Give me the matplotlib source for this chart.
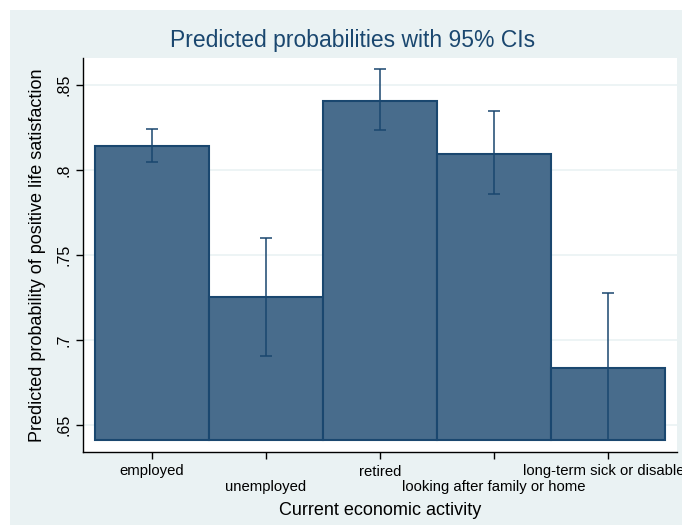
import matplotlib.pyplot as plt
from matplotlib.patches import Rectangle

plt.rcParams['font.family'] = ['Liberation Sans', 'DejaVu Sans']

# predicted probabilities by economic activity, with 95% CI bounds
activities = ['employed', 'unemployed', 'retired',
              'looking after family or home', 'long-term sick or disabled']
prob = [0.814, 0.725, 0.8405, 0.8095, 0.6835]
ci_low = [0.805, 0.6905, 0.8235, 0.786, 0.641]
ci_high = [0.824, 0.760, 0.8595, 0.8345, 0.7275]
base = 0.641

navy = '#1A476F'
fill = '#486C8C'
bg = '#EAF2F3'

fig = plt.figure(figsize=(6.82, 5.25), dpi=100, facecolor='white')
fig.patches.append(Rectangle((10 / 682, 0), 1, 515 / 525, transform=fig.transFigure,
                             facecolor=bg, edgecolor='none', zorder=-1))
ax = fig.add_axes([83 / 682, (525 - 452) / 525, (677 - 83) / 682, (452 - 58) / 525])
ax.set_facecolor('white')

x = list(range(1, len(activities) + 1))
heights = [p - base for p in prob]
ax.bar(x, heights, bottom=base, width=1.0, color=fill, edgecolor=navy, linewidth=1.5, zorder=2)
yerr = [[p - lo for p, lo in zip(prob, ci_low)], [hi - p for p, hi in zip(prob, ci_high)]]
ax.errorbar(x, prob, yerr=yerr, fmt='none', ecolor=navy, elinewidth=1.1,
            capsize=4.3, capthick=1.1, zorder=3)

ax.set_xlim(0.395, 5.605)
ax.set_ylim(0.6341, 0.8659)

yticks = [0.65, 0.7, 0.75, 0.8, 0.85]
ax.set_yticks(yticks)
ax.set_yticklabels(['.65', '.7', '.75', '.8', '.85'], rotation=90, va='center', fontsize=11.5)
ax.yaxis.grid(True, color=bg, linewidth=1.2, zorder=0)
ax.set_axisbelow(True)

ax.set_xticks(x)
ax.set_xticklabels(activities, fontsize=10.7)
ax.tick_params(axis='both', length=5, width=1, color='black')
ax.tick_params(axis='x', pad=4)
ax.tick_params(axis='y', pad=3)
# alternate labels drop to a second row
for i, tick in enumerate(ax.xaxis.get_major_ticks()):
    if i % 2 == 1:
        tick.set_pad(15)

for side in ['top', 'right']:
    ax.spines[side].set_visible(False)
ax.spines['left'].set_linewidth(1)
ax.spines['bottom'].set_linewidth(1)

ax.set_xlabel('Current economic activity', fontsize=13, labelpad=6)
ax.set_ylabel('Predicted probability of positive life satisfaction', fontsize=13, labelpad=8)
fig.text(353 / 682, 1 - 40 / 525, 'Predicted probabilities with 95% CIs',
         ha='center', va='center', fontsize=16.5, color=navy)

fig.savefig('out.png', dpi=100, facecolor='white')
